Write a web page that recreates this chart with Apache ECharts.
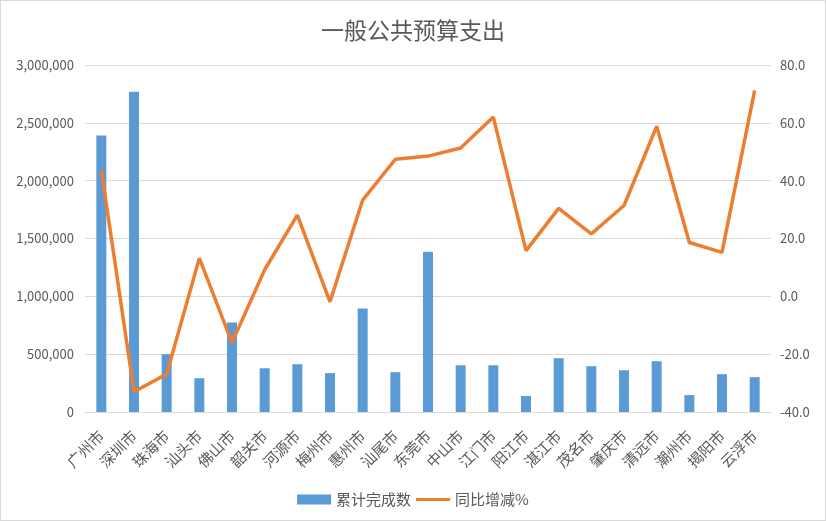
<!DOCTYPE html>
<html>
<head>
<meta charset="utf-8">
<script src="https://cdn.jsdelivr.net/npm/echarts@6/dist/echarts.min.js"></script>
<style>
html,body{margin:0;padding:0;background:#fff;}
#chart{width:826px;height:521px;box-sizing:border-box;border:1px solid #d9d9d9;}
</style>
</head>
<body>
<div id="chart"></div>
<script>
var categories = ['广州市','深圳市','珠海市','汕头市','佛山市','韶关市','河源市','梅州市','惠州市','汕尾市','东莞市','中山市','江门市','阳江市','湛江市','茂名市','肇庆市','清远市','潮州市','揭阳市','云浮市'];
var cumulative = [2390000, 2768000, 500000, 292000, 774000, 378000, 413000, 336000, 895000, 344000, 1385000, 404000, 404000, 138000, 465000, 396000, 361000, 439000, 146000, 327000, 301000];
var yoyChange = [43.6, -33.0, -26.9, 13.2, -16.0, 9.2, 28.1, -1.9, 33.3, 47.4, 48.5, 51.3, 62.0, 15.8, 30.4, 21.6, 31.4, 58.8, 18.6, 15.2, 71.2];
var leftTicks = {min: 0, max: 3000000, interval: 500000};
var rightTicks = {min: -40, max: 80, interval: 20};

var font = '"Noto Sans CJK SC", "Microsoft YaHei", sans-serif';
var chart = echarts.init(document.getElementById('chart'));
chart.setOption({
  animation: false,
  backgroundColor: '#fff',
  title: {
    text: '一般公共预算支出',
    left: 'center',
    top: 13,
    textStyle: {fontFamily: font, fontSize: 23, fontWeight: 'normal', color: '#595959'}
  },
  legend: {
    left: 'center',
    top: 486,
    itemGap: 5,
    itemWidth: 34,
    itemHeight: 10,
    textStyle: {fontFamily: font, fontSize: 15, color: '#595959'},
    itemStyle: {borderWidth: 0},
    data: [
      {name: '累计完成数', icon: 'rect'},
      {name: '同比增减%', icon: 'path://M0,0L0.01,0L0.01,0.01ZM0,3.5L34,3.5L34,6.5L0,6.5ZM0,10L0.01,10L0.01,9.99Z'}
    ]
  },
  grid: {left: 84, right: 54, top: 64, bottom: 108, containLabel: false},
  xAxis: {
    type: 'category',
    data: categories,
    axisLine: {lineStyle: {color: '#d9d9d9'}},
    axisTick: {show: false},
    axisLabel: {rotate: 45, margin: 21, interval: 0, fontFamily: font, fontSize: 15, color: '#595959'}
  },
  yAxis: [{
    type: 'value',
    min: leftTicks.min, max: leftTicks.max, interval: leftTicks.interval,
    axisLine: {show: false},
    axisTick: {show: false},
    splitLine: {lineStyle: {color: '#d9d9d9'}},
    axisLabel: {
      fontFamily: font, fontSize: 13, color: '#595959', margin: 11,
      formatter: function (v) { return v.toLocaleString('en-US'); }
    }
  }, {
    type: 'value',
    min: rightTicks.min, max: rightTicks.max, interval: rightTicks.interval,
    axisLine: {show: false},
    axisTick: {show: false},
    splitLine: {show: false},
    axisLabel: {
      fontFamily: font, fontSize: 13, color: '#595959', margin: 9,
      formatter: function (v) { return v.toFixed(1); }
    }
  }],
  series: [{
    name: '累计完成数',
    type: 'bar',
    data: cumulative,
    barWidth: 10,
    itemStyle: {color: '#5b9bd5'}
  }, {
    name: '同比增减%',
    type: 'line',
    yAxisIndex: 1,
    data: yoyChange,
    symbol: 'none',
    lineStyle: {color: '#ed7d31', width: 3.5},
    itemStyle: {color: '#ed7d31'}
  }]
});
</script>
</body>
</html>
